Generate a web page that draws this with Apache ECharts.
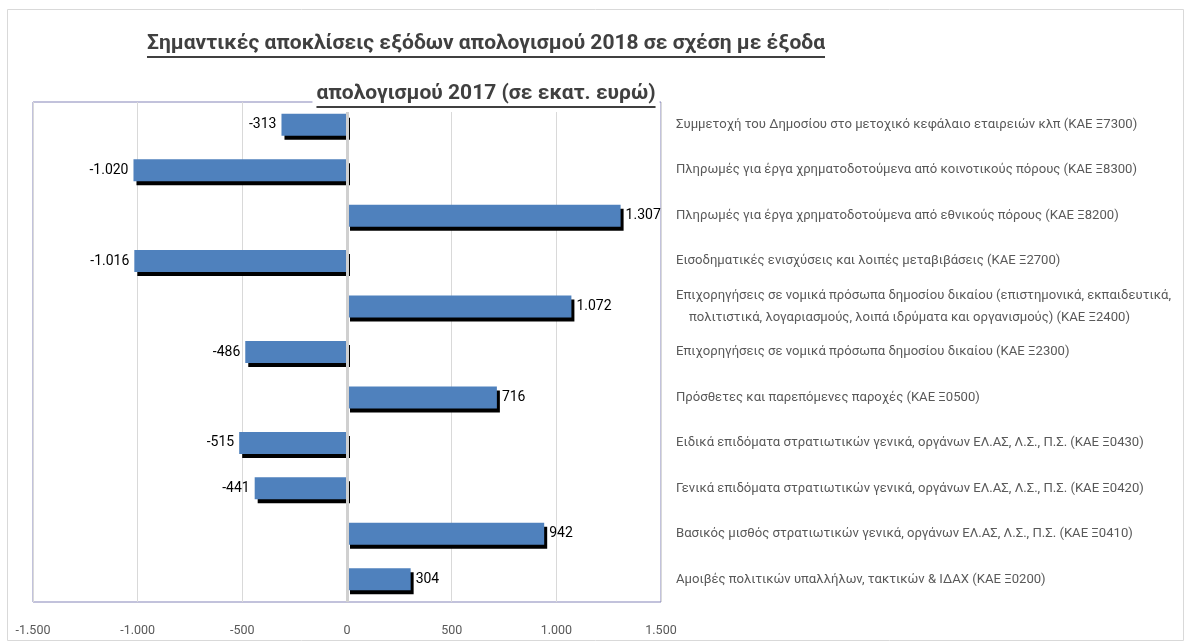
<!DOCTYPE html>
<html>
<head>
<meta charset="utf-8">
<script src="https://cdn.jsdelivr.net/npm/echarts@6/dist/echarts.min.js"></script>
<style>
  html, body { margin: 0; padding: 0; background: #fff; }
  #chart { width: 1187px; height: 644px; }
</style>
</head>
<body>
<div id="chart"></div>
<script>
// categories, top to bottom
const categories = [
  "Συμμετοχή του Δημοσίου στο μετοχικό κεφάλαιο εταιρειών κλπ (ΚΑΕ Ξ7300)",
  "Πληρωμές για έργα χρηματοδοτούμενα από κοινοτικούς πόρους (ΚΑΕ Ξ8300)",
  "Πληρωμές για έργα χρηματοδοτούμενα από εθνικούς πόρους (ΚΑΕ Ξ8200)",
  "Εισοδηματικές ενισχύσεις και λοιπές μεταβιβάσεις (ΚΑΕ Ξ2700)",
  "Επιχορηγήσεις σε νομικά πρόσωπα δημοσίου δικαίου (επιστημονικά, εκπαιδευτικά,\nπολιτιστικά, λογαριασμούς, λοιπά ιδρύματα και οργανισμούς) (ΚΑΕ Ξ2400)",
  "Επιχορηγήσεις σε νομικά πρόσωπα δημοσίου δικαίου (ΚΑΕ Ξ2300)",
  "Πρόσθετες και παρεπόμενες παροχές (ΚΑΕ Ξ0500)",
  "Ειδικά επιδόματα στρατιωτικών γενικά, οργάνων ΕΛ.ΑΣ, Λ.Σ., Π.Σ. (ΚΑΕ Ξ0430)",
  "Γενικά επιδόματα στρατιωτικών γενικά, οργάνων ΕΛ.ΑΣ, Λ.Σ., Π.Σ. (ΚΑΕ Ξ0420)",
  "Βασικός μισθός στρατιωτικών γενικά, οργάνων ΕΛ.ΑΣ, Λ.Σ., Π.Σ. (ΚΑΕ Ξ0410)",
  "Αμοιβές πολιτικών υπαλλήλων, τακτικών & ΙΔΑΧ (ΚΑΕ Ξ0200)"
];
// difference 2018 vs 2017, million euro
const diffValues = [-313, -1020, 1307, -1016, 1072, -486, 716, -515, -441, 942, 304];
const xMin = -1500;
const xMax = 1500;
const xStep = 500;
const titleLines = [
  "Σημαντικές αποκλίσεις εξόδων απολογισμού 2018 σε σχέση με έξοδα",
  "απολογισμού 2017 (σε εκατ. ευρώ)"
];

const labelFont = "Roboto, 'Liberation Sans', sans-serif";
const titleFont = "Roboto, 'Liberation Sans', sans-serif";

// greek number format: dot as thousands separator
function fmt(v) {
  const s = String(Math.abs(v)).replace(/\B(?=(\d{3})+(?!\d))/g, ".");
  return (v < 0 ? "-" : "") + s;
}

function textWidth(text, font) {
  const ctx = document.createElement("canvas").getContext("2d");
  ctx.font = font;
  return ctx.measureText(text).width;
}

const chart = echarts.init(document.getElementById("chart"));

// title sized so that the first line spans about 678px, like the original
const centerX = 486;
const titleSize = Math.min(26, 678 / textWidth(titleLines[0], "bold 100px " + titleFont) * 100);
const titleY = [44, 94];
const titleGraphics = [];
titleLines.forEach((line, i) => {
  const font = "bold " + titleSize.toFixed(1) + "px " + titleFont;
  const w = textWidth(line, font);
  titleGraphics.push({
    type: "rect",
    shape: { x: centerX - w / 2 - 4, y: titleY[i] - 18, width: w + 8, height: 36 },
    style: { fill: "#fff" },
    z: 10
  });
  titleGraphics.push({
    type: "text",
    x: centerX,
    y: titleY[i],
    style: {
      text: line,
      fill: "#404040",
      font: font,
      align: "center",
      verticalAlign: "middle"
    },
    z: 11
  });
  titleGraphics.push({
    type: "rect",
    shape: { x: centerX - w / 2, y: titleY[i] + 12, width: w, height: 2 },
    style: { fill: "#404040" },
    z: 11
  });
});

chart.setOption({
  animation: false,
  graphic: [
    {
      type: "rect",
      shape: { x: 7.5, y: 9.5, width: 1176, height: 631 },
      style: { fill: "none", stroke: "#d9d9d9", lineWidth: 1 },
      z: -1
    }
  ].concat(titleGraphics),
  grid: {
    show: true,
    left: 33,
    right: 526,
    top: 102,
    bottom: 42,
    borderColor: "#8585b8",
    borderWidth: 1
  },
  xAxis: {
    type: "value",
    min: xMin,
    max: xMax,
    interval: xStep,
    axisLine: { show: false },
    axisTick: { show: false },
    splitLine: { lineStyle: { color: "#d9d9d9", width: 1 } },
    axisLabel: {
      margin: 22,
      color: "#595959",
      fontSize: 12.5,
      fontFamily: labelFont,
      formatter: v => fmt(v)
    }
  },
  yAxis: {
    type: "category",
    data: categories,
    inverse: true,
    position: "right",
    axisLine: { show: false },
    axisTick: { show: false },
    axisLabel: {
      margin: 15,
      color: "#595959",
      fontSize: 13.1,
      lineHeight: 22,
      align: "left",
      fontFamily: labelFont,
      formatter: v => v.split("\n").map((s, i) => (i > 0 ? "    " + s : s)).join("\n")
    }
  },
  series: [
    {
      type: "bar",
      barWidth: 22,
      data: diffValues.map(v => ({
        value: v,
        label: { position: v < 0 ? "left" : "right" }
      })),
      itemStyle: {
        color: "#4f81bd",
        shadowColor: "#000",
        shadowBlur: 0,
        shadowOffsetX: 3,
        shadowOffsetY: 4
      },
      label: {
        show: true,
        distance: 5,
        color: "#000",
        fontSize: 14,
        fontFamily: labelFont,
        formatter: p => fmt(p.value)
      },
      markLine: {
        silent: true,
        symbol: "none",
        label: { show: false },
        lineStyle: { color: "#d0d0d0", width: 3, type: "solid" },
        data: [{ xAxis: 0 }]
      }
    }
  ]
});
</script>
</body>
</html>
